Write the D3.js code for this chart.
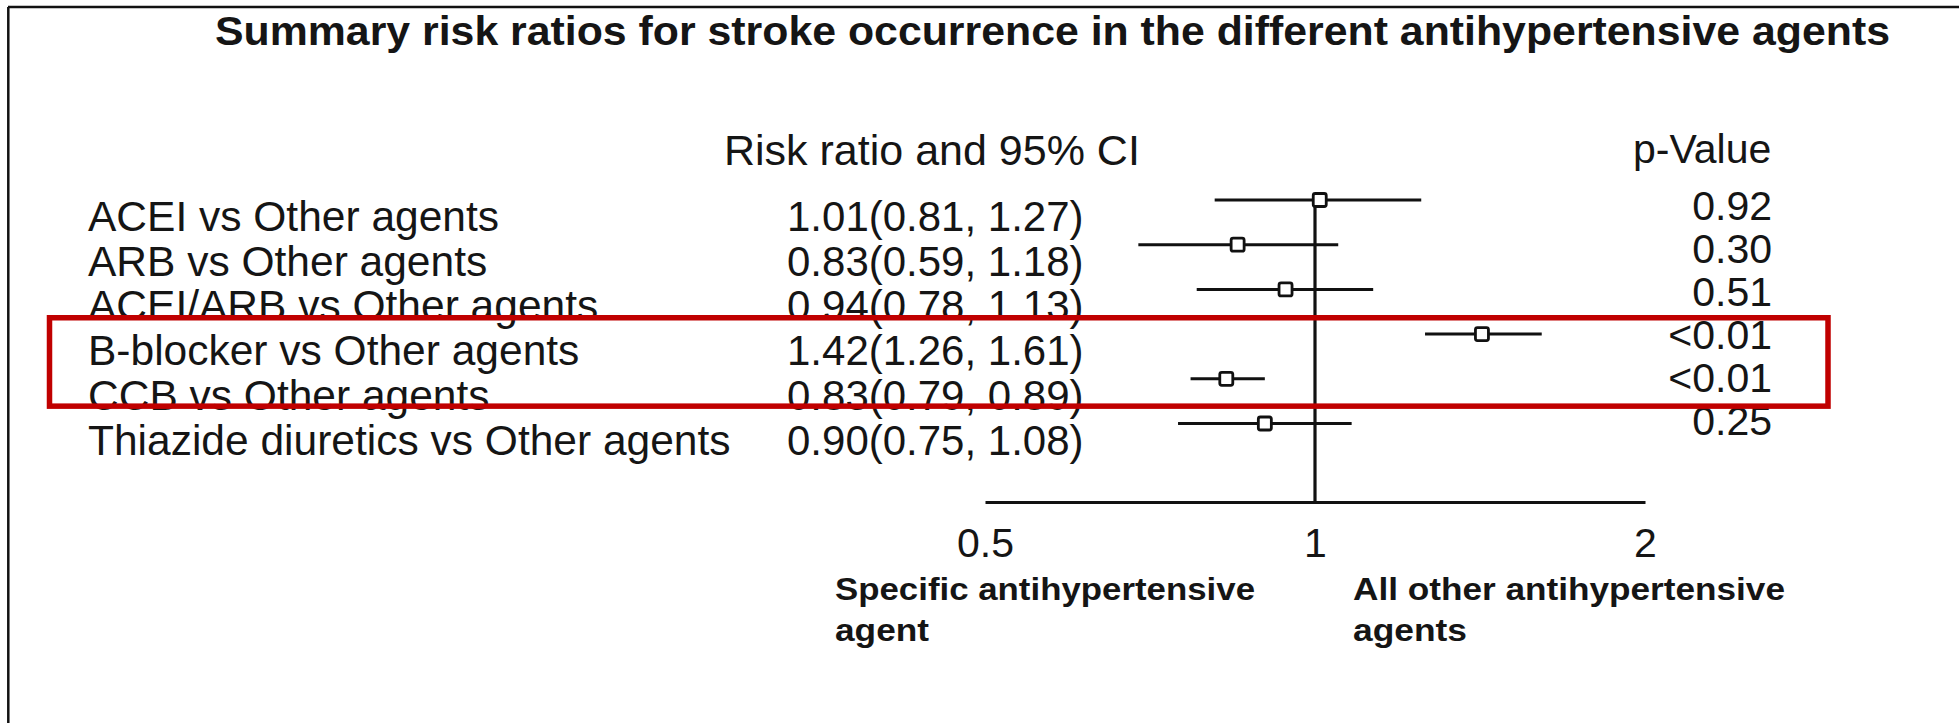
<!DOCTYPE html>
<html>
<head>
<meta charset="utf-8">
<script src="https://cdn.jsdelivr.net/npm/d3@7"></script>
<style>
  html, body { margin: 0; padding: 0; background: #ffffff; }
  svg { display: block; }
  text { font-family: "Liberation Sans", Arial, sans-serif; fill: #151515; }
</style>
</head>
<body>
<svg id="chart" width="1959" height="723"></svg>
<script>
// ---------- data ----------
const categories = [
  "ACEI vs Other agents",
  "ARB vs Other agents",
  "ACEI/ARB vs Other agents",
  "B-blocker vs Other agents",
  "CCB vs Other agents",
  "Thiazide diuretics vs Other agents"
];
const ciLabels = [
  "1.01(0.81, 1.27)",
  "0.83(0.59, 1.18)",
  "0.94(0.78, 1.13)",
  "1.42(1.26, 1.61)",
  "0.83(0.79, 0.89)",
  "0.90(0.75, 1.08)"
];
const pValues = ["0.92", "0.30", "0.51", "<0.01", "<0.01", "0.25"];
// marks as drawn in the plot
const estimates = [1.01, 0.85, 0.94, 1.42, 0.83, 0.90];
const lower     = [0.81, 0.69, 0.78, 1.26, 0.77, 0.75];
const upper     = [1.25, 1.05, 1.13, 1.61, 0.90, 1.08];
const xTicks = [0.5, 1, 2];
const highlighted = [3, 4];
const titleText = "Summary risk ratios for stroke occurrence in the different antihypertensive agents";
const headerCI = "Risk ratio and 95% CI";
const headerP = "p-Value";
const leftFavour = ["Specific antihypertensive", "agent"];
const rightFavour = ["All other antihypertensive", "agents"];

// ---------- drawing ----------
(function () {
const svg = d3.select("#chart");
const idx = d3.range(categories.length);

const x = d3.scaleLog().domain([0.5, 2]).range([985, 1645]);
const y = d3.scalePoint().domain(idx).range([200, 423.5]);
const yP = d3.scalePoint().domain(idx).range([220, 435]);
const axisY = 502;

// frame (top and left edges)
svg.append("line").attr("x1", 8).attr("x2", 1959).attr("y1", 7).attr("y2", 7)
  .attr("stroke", "#111").attr("stroke-width", 2.5);
svg.append("line").attr("x1", 8.3).attr("x2", 8.3).attr("y1", 7).attr("y2", 723)
  .attr("stroke", "#111").attr("stroke-width", 2.5);

// title
svg.append("text")
  .attr("x", 215).attr("y", 45)
  .attr("font-size", 40).attr("font-weight", "bold")
  .attr("textLength", 1675).attr("lengthAdjust", "spacingAndGlyphs")
  .text(titleText);

// headers
svg.append("text").attr("x", 724).attr("y", 165).attr("font-size", 43).text(headerCI);
svg.append("text").attr("x", 1633).attr("y", 163).attr("font-size", 41).text(headerP);

// row labels
svg.append("g").selectAll("text").data(idx).join("text")
  .attr("x", 88).attr("y", i => y(i) + 31)
  .attr("font-size", 42.5)
  .text(i => categories[i]);

// CI text
svg.append("g").selectAll("text").data(idx).join("text")
  .attr("x", 787).attr("y", i => y(i) + 31)
  .attr("font-size", 42)
  .text(i => ciLabels[i]);

// p-values
svg.append("g").selectAll("text").data(idx).join("text")
  .attr("x", 1772).attr("y", i => yP(i))
  .attr("text-anchor", "end")
  .attr("font-size", 41)
  .text(i => pValues[i]);

// axis
const axis = d3.axisBottom(x).tickValues(xTicks).tickSize(0).tickSizeOuter(0)
  .tickPadding(26).tickFormat(d3.format(""));
const gAxis = svg.append("g").attr("transform", `translate(0,${axisY})`).call(axis);
gAxis.select(".domain").attr("stroke", "#111").attr("stroke-width", 3);
gAxis.selectAll(".tick text")
  .attr("font-size", 41)
  .attr("font-family", "Liberation Sans, Arial, sans-serif")
  .attr("fill", "#151515");

// reference line at 1
svg.append("line")
  .attr("x1", x(1)).attr("x2", x(1))
  .attr("y1", y(0) - 7).attr("y2", axisY)
  .attr("stroke", "#111").attr("stroke-width", 3.2);

// CI lines
svg.append("g").selectAll("line").data(idx).join("line")
  .attr("x1", i => x(lower[i])).attr("x2", i => x(upper[i]))
  .attr("y1", i => y(i)).attr("y2", i => y(i))
  .attr("stroke", "#111").attr("stroke-width", 3);

// point squares
const sq = 13;
svg.append("g").selectAll("rect").data(idx).join("rect")
  .attr("x", i => x(estimates[i]) - sq / 2)
  .attr("y", i => y(i) - sq / 2)
  .attr("width", sq).attr("height", sq)
  .attr("rx", 2)
  .attr("fill", "#fff").attr("stroke", "#111").attr("stroke-width", 2.8);

// favour labels
function favour(lines, x0, widths) {
  lines.forEach((t, k) => {
    svg.append("text")
      .attr("x", x0).attr("y", 600 + k * 41)
      .attr("font-size", 32).attr("font-weight", "bold")
      .attr("textLength", widths[k]).attr("lengthAdjust", "spacingAndGlyphs")
      .text(t);
  });
}
favour(leftFavour, 835, [420, 94]);
favour(rightFavour, 1353, [432, 114]);

// highlight box around the significant rows
const boxTop = (y(highlighted[0] - 1) + y(highlighted[0])) / 2 + 6;
const boxBottom = (y(highlighted[1]) + y(highlighted[1] + 1)) / 2 + 5;
svg.append("rect")
  .attr("x", 49.5).attr("y", boxTop)
  .attr("width", 1828 - 49.5).attr("height", boxBottom - boxTop)
  .attr("fill", "none").attr("stroke", "#c00000").attr("stroke-width", 5.5);
})();
</script>
</body>
</html>
